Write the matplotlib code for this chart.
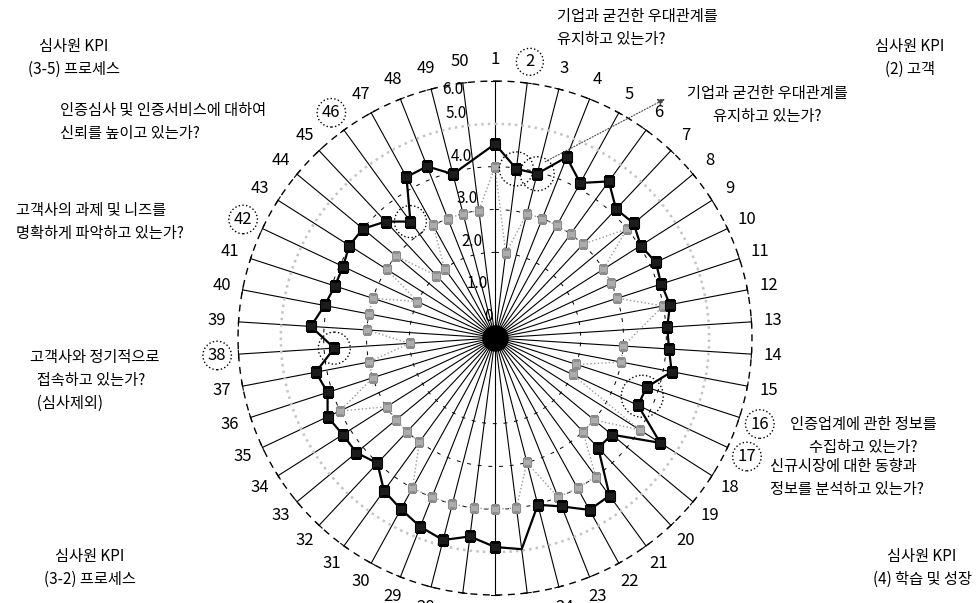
import numpy as np
import matplotlib.pyplot as plt
from matplotlib.patches import Circle

plt.rcParams['font.family'] = ['Noto Sans CJK KR', 'DejaVu Sans']

# 50 KPI items, clockwise from the top
items = [str(i) for i in range(1, 51)]

# black series (squares, solid line); None = no point
score_a = [4.53, 3.98, 3.96, 4.54, 4.13, 4.52, 4.13, 4.20, 4.03, 4.15,
           4.08, 4.16, 4.03, 4.07, 4.20, 3.72, 3.69, 4.57, 3.54, 3.52,
           4.55, 4.58, 4.23, 4.02, 4.97, 4.88, 4.67, 4.87, 4.74, 4.56,
           4.41, 4.01, 4.20, 4.21, 4.32, 4.11, 4.26, 3.76, 4.31, 4.05,
           3.93, 3.92, 4.03, 4.00, 3.73, 3.36, 4.29, 4.31, 3.95, None]
# gray series (dotted line)
score_b = [4, 2, 3, 3, 3, 3, 3, 4, 3, 3,
           3, 4, None, 3, 3, 2, 2, 4, 3, 3,
           4, 4, 4, 3, 4, 4, 4, 4, 4, 4,
           3, 3, 3, 3, 4, 3, 3, 2, 3, 3,
           3, 2, 3, 3, 2, 2, 3, 3, 3, 3]
a_no_marker = ['25']          # vertex drawn without its square
circled = ['2', '16', '17', '38', '42', '46']
r_ticks = [0, 1, 2, 3, 4, 5, 6]
r_labels = ['0', '1.0', '2.0', '3.0', '4.0', '5.0', '6.0']

W, H = 979, 603
cx, cy, unit = 495, 265, 42.83   # centre (px from bottom-left), px per unit
rmax = 7
R = rmax * unit

fig = plt.figure(figsize=(W / 100, H / 100), dpi=100)
ax = fig.add_axes([(cx - R) / W, (cy - R) / H, 2 * R / W, 2 * R / H], projection='polar')
ax.set_theta_zero_location('N')
ax.set_theta_direction(-1)
ax.set_ylim(0, rmax)
ax.set_axis_off()

n = len(items)
theta = np.deg2rad(np.arange(n) * 360.0 / n)

# spokes with a small end tick
d = np.deg2rad(0.9)
for t in theta:
    ax.plot([t, t], [0, 6], color='k', lw=0.8, zorder=1)
    ax.plot([t - d, t + d], [6, 6], color='k', lw=0.8, zorder=1)

# rings
ring = np.linspace(0, 2 * np.pi, 721)
for rv in [2, 3, 4]:
    ax.plot(ring, np.full_like(ring, rv), color='k', lw=0.7, ls=(0, (4, 7)), zorder=1)
ax.plot(ring, np.full_like(ring, 6), color='k', lw=1.0, ls=(0, (5, 4)), zorder=1)
ax.plot(ring, np.full_like(ring, 5), color='#c4c4c4', lw=1.8, ls=':', zorder=1)
ax.plot([0], [0], 'o', color='k', ms=18, zorder=2)


def series(vals):
    idx = [i for i, v in enumerate(vals) if v is not None]
    t = [theta[i] for i in idx] + [theta[idx[0]]]
    r = [vals[i] for i in idx] + [vals[idx[0]]]
    return idx, t, r


idx_b, t_b, r_b = series(score_b)
ax.plot(t_b, r_b, color='#9a9a9a', lw=1.0, ls=':', zorder=3)
ax.plot([theta[i] for i in idx_b], [score_b[i] for i in idx_b], 's', ms=6,
        mfc='#adadad', mec='#8c8c8c', mew=0.8, zorder=4)

idx_a, t_a, r_a = series(score_a)
ax.plot(t_a, r_a, color='k', lw=1.6, zorder=5)
mk = [i for i in idx_a if items[i] not in a_no_marker]
ax.plot([theta[i] for i in mk], [score_a[i] for i in mk], 's', ms=6.5,
        mfc='#1c1c1c', mec='k', mew=0.8, zorder=6)

# item numbers
for t, lab in zip(theta, items):
    bb = None
    if lab in circled:
        bb = dict(boxstyle='circle,pad=0.3', fc='none', ec='k', ls=':', lw=1.0)
    ax.text(t, 6.5, lab, ha='center', va='center', fontsize=12, bbox=bb, zorder=7)

# radial tick labels along item 50
t50 = theta[-1]
for rv, lab in zip(r_ticks, r_labels):
    pos = rv + 0.28
    if rv == 0:
        pos = 0.5
    if rv == 6:
        pos = 5.85
    ax.text(t50, pos, lab, ha='right', va='center', fontsize=11, zorder=7)

# overlay in pixel coordinates (origin top-left) for the notes
ax2 = fig.add_axes([0, 0, 1, 1])
ax2.set_xlim(0, W)
ax2.set_ylim(H, 0)
ax2.set_axis_off()
ax2.patch.set_alpha(0)


def px(i, v):
    x, y = ax.transData.transform((theta[i], v))
    return x, H - y


for k, rad in [('2', 17), ('3', 17), ('38', 16), ('46', 16)]:
    i = items.index(k)
    ax2.add_patch(Circle(px(i, score_a[i]), rad, fill=False, ec='k', ls=':', lw=1.0))
p16, p17 = px(15, score_a[15]), px(16, score_a[16])
ax2.add_patch(Circle(((p16[0] + p17[0]) / 2, (p16[1] + p17[1]) / 2), 21,
                     fill=False, ec='k', ls=':', lw=1.0))

p3 = px(2, score_a[2])
ax2.annotate('', xy=(665, 99), xytext=(p3[0] + 8, p3[1] - 12),
             arrowprops=dict(arrowstyle='-|>', color='#444', lw=0.8, ls=':',
                             shrinkA=0, shrinkB=0, mutation_scale=10))

fs = 11
ls = 1.45
ax2.text(557, 28, '기업과 굳건한 우대관계를\n유지하고 있는가?', ha='left', va='center',
         fontsize=fs, linespacing=ls)
ax2.text(767, 105, '기업과 굳건한 우대관계를\n유지하고 있는가?', ha='center', va='center',
         fontsize=fs, linespacing=ls)
ax2.text(74, 58, '심사원 KPI\n(3-5) 프로세스', ha='center', va='center', fontsize=fs, linespacing=ls)
ax2.text(910, 58, '심사원 KPI\n(2) 고객', ha='center', va='center', fontsize=fs, linespacing=ls)
ax2.text(90, 568, '심사원 KPI\n(3-2) 프로세스', ha='center', va='center', fontsize=fs, linespacing=ls)
ax2.text(922, 568, '심사원 KPI\n(4) 학습 및 성장', ha='center', va='center', fontsize=fs, linespacing=ls)
ax2.text(60, 122, '인증심사 및 인증서비스에 대하여\n신뢰를 높이고 있는가?', ha='left', va='center',
         fontsize=fs, linespacing=ls)
ax2.text(16, 222, '고객사의 과제 및 니즈를\n명확하게 파악하고 있는가?', ha='left', va='center',
         fontsize=fs, linespacing=ls)
ax2.text(30, 380, '고객사와 정기적으로\n  접속하고 있는가?\n  (심사제외)', ha='left', va='center',
         fontsize=fs, linespacing=ls)
ax2.text(863, 436, '인증업계에 관한 정보를\n수집하고 있는가?', ha='center', va='center',
         fontsize=fs, linespacing=ls)
ax2.text(770, 478, '신규시장에 대한 동향과\n정보를 분석하고 있는가?', ha='left', va='center',
         fontsize=fs, linespacing=ls)

fig.savefig('out.png', dpi=100)
